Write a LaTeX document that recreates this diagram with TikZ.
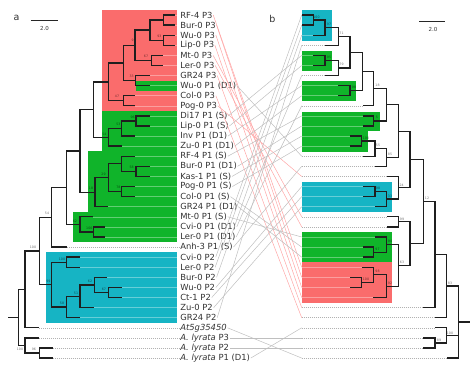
\documentclass[tikz,border=0pt]{standalone}
\usepackage{fontspec}
\setmainfont{DejaVu Sans}
\definecolor{redbox}{RGB}{250,108,108}
\definecolor{greenbox}{RGB}{16,180,42}
\definecolor{bluebox}{RGB}{22,180,196}
\definecolor{labcol}{RGB}{50,50,50}
\begin{document}
\begin{tikzpicture}[x=1pt,y=-1pt,
  br/.style={line width=1.35pt,black!88,line cap=butt},
  lab/.style={anchor=west,inner sep=0.6pt,text=labcol,font=\fontsize{8.4}{9}\selectfont},
  bs/.style={font=\fontsize{3.2}{3.2}\selectfont,text=black,text opacity=0.55,inner sep=0pt},
  inrow/.style={white,opacity=0.35,line width=0.5pt},
  outrow/.style={gray!60,line width=0.5pt,dash pattern=on 1pt off 1pt},
  tangle/.style={gray!50,line width=0.5pt},
  ptangle/.style={red!35,line width=0.5pt}]
\useasboundingbox (0,0) rectangle (474,370);
% ---------- boxes, left ----------
\fill[redbox] (101.7,9.5) rectangle (177,110.9);
\fill[greenbox] (136,80.6) rectangle (177,90.7);
\fill[greenbox] (101.7,110.9) rectangle (177,151.3);
\fill[greenbox] (88,151.3) rectangle (177,211.8);
\fill[greenbox] (73.3,211.8) rectangle (177,242);
\fill[bluebox] (45.7,252.3) rectangle (177,322.7);
% ---------- boxes, right ----------
\fill[bluebox] (301.7,10.3) rectangle (331.7,40.5);
\fill[greenbox] (301.7,50.5) rectangle (331.7,71);
\fill[greenbox] (301.7,81) rectangle (355.7,101);
\fill[greenbox] (301.7,111.5) rectangle (380,131.2);
\fill[greenbox] (301.7,131.2) rectangle (368.3,151.5);
\fill[bluebox] (301.7,181.7) rectangle (391.7,211.7);
\fill[greenbox] (301.7,232.2) rectangle (391.7,262.4);
\fill[redbox] (301.7,262.4) rectangle (391.7,302.8);
% ---------- leaf labels ----------
\foreach \t [count=\i] in {RF-4 P3,Bur-0 P3,Wu-0 P3,Lip-0 P3,Mt-0 P3,Ler-0 P3,GR24 P3,Wu-0 P1 (D1),Col-0 P3,Pog-0 P3,Di17 P1 (S),Lip-0 P1 (S),Inv P1 (D1),Zu-0 P1 (D1),RF-4 P1 (S),Bur-0 P1 (D1),Kas-1 P1 (S),Pog-0 P1 (S),Col-0 P1 (S),GR24 P1 (D1),Mt-0 P1 (S),Cvi-0 P1 (D1),Ler-0 P1 (D1),Anh-3 P1 (S),Cvi-0 P2,Ler-0 P2,Bur-0 P2,Wu-0 P2,Ct-1 P2,Zu-0 P2,GR24 P2,\textit{At5g35450},\textit{A. lyrata} P3,\textit{A. lyrata} P2,\textit{A. lyrata} P1 (D1)}
  \node[lab] (l\i) at (179.5,{15+(\i-1)*10.09}) {\t};
% ---------- tip coordinates ----------
\foreach \x [count=\i] in {175,175,175,175,163.3,163.3,150,150,135,135,150,150,135,121.7,135,150,150,135,135,108.3,93.3,105,105,66.7,80,80,106.7,121.7,121.7,94.3,80,39.3,39.3,52.7,52.7}
  \coordinate (t\i) at (\x,{15+(\i-1)*10.09});
\foreach \x [count=\i] in {301.7,301.7,313.3,325,313.3,313.3,325,338.3,338.3,362.7,362.7,362.7,350,350,362.7,375,386.7,362.7,362.7,375,386.7,386.7,375,362.7,362.7,361.7,350,350,373.3,423.3,435,435,423.3,423.3,446.7}
  \coordinate (s\i) at (\x,{15+(\i-1)*10.09});
\foreach \i in {1,...,35} \coordinate (r\i) at (301.7,{15+(\i-1)*10.09});
% ---------- row lines ----------
\foreach \i in {1,...,23,25,26,27,28,29,30,31} \draw[inrow] (t\i) -- (177,{15+(\i-1)*10.09});
\foreach \i in {24,32,33,34,35} \draw[outrow] (t\i) -- (l\i.west);
\foreach \i in {1,2,3,5,6,8,9,11,12,13,14,18,19,20,23,24,25,26,27,28,29} \draw[inrow] (r\i) -- (s\i);
\foreach \i in {4,7,10,15,16,17,21,22,30,31,32,33,34,35} \draw[outrow] (r\i) -- (s\i);
% ---------- tanglegram ----------
\foreach \a/\b in {1/26,2/27,3/28,4/29,5/21,6/22,7/30,9/31,10/17}
  \draw[ptangle] (l\a.east) -- (r\b);
\foreach \a/\b in {8/15,11/5,12/6,13/8,14/9,15/11,16/12,17/13,18/14,19/24,20/25,21/23,22/7,23/10,24/16,25/1,26/2,27/3,28/18,29/19,30/20,31/4,32/35,33/33,34/34,35/32}
  \draw[tangle] (l\a.east) -- (r\b);
% ---------- left tree ----------
\coordinate (a1) at (163.3,20.05);  \coordinate (a2) at (163.3,40.23);
\coordinate (a3) at (150,30.14);    \coordinate (a4) at (151.7,60.4);
\coordinate (a5) at (135,45.27);    \coordinate (a6) at (135.7,80.59);
\coordinate (a7) at (123.3,62.93);  \coordinate (a8) at (123.3,100.77);
\coordinate (a9) at (108.3,81.85);
\coordinate (b1) at (136,120.95);   \coordinate (b2) at (121.7,128.5);
\coordinate (b3) at (108.3,137.3);  \coordinate (b4) at (93.3,109.6);
\coordinate (c1) at (136,171.4);    \coordinate (c2) at (121.7,163.8);
\coordinate (c3) at (121.7,191.6);  \coordinate (c4) at (108.3,177.7);
\coordinate (c5) at (95,192.2);     \coordinate (d1) at (80,150.9);
\coordinate (m1) at (93.3,231.9);   \coordinate (m2) at (80,224.4);
\coordinate (d2) at (66.7,187.6);   \coordinate (e1) at (51.7,217.3);
\coordinate (p1) at (66.7,262.2);   \coordinate (p2) at (108.3,292.5);
\coordinate (p3) at (94.3,284.9);   \coordinate (p4) at (80,296.3);
\coordinate (p5) at (66.7,307.0);   \coordinate (p6) at (51.7,284.6);
\coordinate (f1) at (39.3,251.0);   \coordinate (g1) at (25,289.4);
\coordinate (y1) at (39.3,353.0);   \coordinate (y2) at (25,345.4);
\coordinate (rt) at (18.3,317.4);   \coordinate (rs) at (8,317.4);
\foreach \p/\c in {a1/t1,a1/t2,a2/t3,a2/t4,a3/a1,a3/a2,a4/t5,a4/t6,a5/a3,a5/a4,a6/t7,a6/t8,a7/a5,a7/a6,a8/t9,a8/t10,a9/a7,a9/a8,b1/t11,b1/t12,b2/b1,b2/t13,b3/b2,b3/t14,b4/a9,b4/b3,c1/t16,c1/t17,c2/t15,c2/c1,c3/t18,c3/t19,c4/c2,c4/c3,c5/c4,c5/t20,d1/b4,d1/c5,m1/t22,m1/t23,m2/t21,m2/m1,d2/d1,d2/m2,e1/d2,e1/t24,p1/t25,p1/t26,p2/t28,p2/t29,p3/t27,p3/p2,p4/p3,p4/t30,p5/p4,p5/t31,p6/p1,p6/p5,f1/e1,f1/p6,g1/f1,g1/t32,y1/t34,y1/t35,y2/t33,y2/y1,rt/g1,rt/y2}
  \draw[br] (\p) |- (\c);
\draw[br] (rt) -- (rs);
% ---------- right tree ----------
\coordinate (N1) at (313.3,20.05);  \coordinate (N2) at (325,27.6);
\coordinate (N3) at (338.3,36.4);   \coordinate (N4) at (325,60.4);
\coordinate (N5) at (338.3,68.0);   \coordinate (N6) at (350,52.2);
\coordinate (N7) at (350,90.7);     \coordinate (N8) at (362.7,71.4);
\coordinate (N9) at (373.3,88.6);   \coordinate (N11) at (373.3,120.95);
\coordinate (N10) at (386.7,104.8); \coordinate (N13) at (361.7,141.1);
\coordinate (N14) at (375,148.7);   \coordinate (N15) at (386.7,157.5);
\coordinate (N12) at (398.3,131.2); \coordinate (N17) at (375,191.6);
\coordinate (N18) at (386.7,199.1); \coordinate (N19) at (398.3,187.8);
\coordinate (N16) at (410,159.5);   \coordinate (N21) at (398.3,221.8);
\coordinate (N24) at (373.3,252.2); \coordinate (N25) at (386.7,244.6);
\coordinate (N26) at (361.7,282.4); \coordinate (N27) at (373.3,274.8);
\coordinate (N28) at (386.7,286.2); \coordinate (N29) at (398.3,265.4);
\coordinate (N22) at (410,243.6);   \coordinate (N20) at (423.3,201.6);
\coordinate (N30) at (435,254.6);   \coordinate (N31) at (446.7,286.1);
\coordinate (N32) at (435,342.9);   \coordinate (N33) at (446.7,335.4);
\coordinate (RR) at (458.3,322.1);  \coordinate (RS) at (470,322.1);
\foreach \p/\c in {N1/s1,N1/s2,N2/N1,N2/s3,N3/N2,N3/s4,N4/s5,N4/s6,N5/N4,N5/s7,N6/N3,N6/N5,N7/s8,N7/s9,N8/N6,N8/N7,N9/N8,N9/s10,N11/s11,N11/s12,N10/N9,N10/N11,N13/s13,N13/s14,N14/N13,N14/s15,N15/N14,N15/s16,N12/N10,N12/N15,N17/s18,N17/s19,N18/N17,N18/s20,N19/s17,N19/N18,N16/N12,N16/N19,N21/s21,N21/s22,N24/s24,N24/s25,N25/s23,N25/N24,N26/s27,N26/s28,N27/s26,N27/N26,N28/N27,N28/s29,N29/N25,N29/N28,N22/N21,N22/N29,N20/N16,N20/N22,N30/N20,N30/s30,N31/N30,N31/s31,N32/s33,N32/s34,N33/s32,N33/N32,RR/N31,RR/N33,RR/s35}
  \draw[br] (\p) |- (\c);
\draw[br] (RR) -- (RS);
% ---------- bootstrap values ----------
\foreach \v/\x/\y in {93/159.3/36.7,9/132.7/40.5,67/146/56.7,33/131.7/76.7,47/117/96,96/132.7/117.7,53/118.3/124.5,54/104.3/134.5,58/131.7/167.5,29/103.5/174.3,78/118.3/187.7,18/91/188.5,62/75/221,100/89.3/228.3,54/47/213.5,100/33/247,100/62/259,62/90/281.7,67/104/289.3,51/76/293,58/62/303.5,99/48.3/281.7,100/20/349.5,96/34/349.5}
  \node[bs] at (\x,\y) {\v};
\foreach \v/\x/\y in {100/316.5/17.3,97/329/24,71/341.5/33.3,95/329/57.3,79/341.5/64.5,98/354/87.3,18/377.5/85.5,5/377/117.5,100/366/138.5,55/378/145,85/390/154,98/378/188.5,33/390/196,24/401.7/185,12/427/198.5,99/402/219,97/377.5/249.3,94/390/241.7,100/366/279.3,98/377.5/271.7,92/390/283.3,63/402/262.3,83/450/283.3,100/450/333,89/439/340}
  \node[bs] at (\x,\y) {\v};
% ---------- panel letters and scale bars ----------
\node[font=\fontsize{9.5}{10}\selectfont,text=labcol] (pa) at (16.5,17.5) {a};
\node[font=\fontsize{9.5}{10}\selectfont,text=labcol] (pb) at (272.3,19) {b};
\coordinate (sa1) at (30.7,20); \coordinate (sa2) at (58.3,20);
\draw[line width=1pt,black!85] (sa1) -- (sa2);
\node[font=\fontsize{5.5}{6}\selectfont,text=labcol] (la) at (44.5,28.5) {2.0};
\coordinate (sb1) at (419.3,21.3); \coordinate (sb2) at (445,21.3);
\draw[line width=1pt,black!85] (sb1) -- (sb2);
\node[font=\fontsize{5.5}{6}\selectfont,text=labcol] (lb) at (433,29) {2.0};
\end{tikzpicture}
\end{document}
